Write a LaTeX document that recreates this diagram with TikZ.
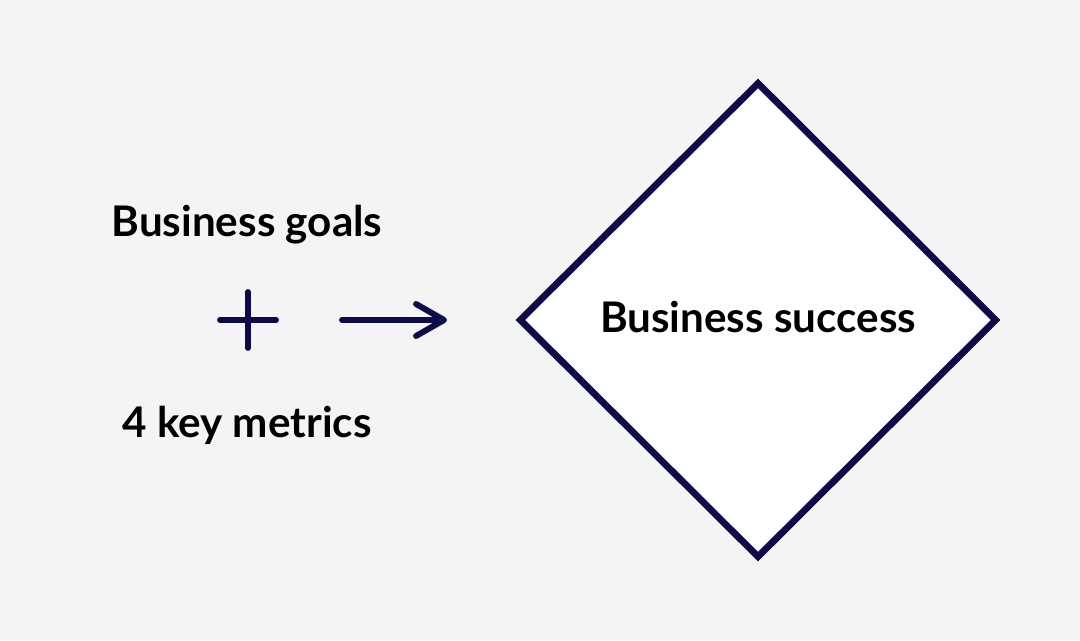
\documentclass[tikz,border=0pt]{standalone}
\usepackage{fontspec}
\setmainfont{Lato}
\usetikzlibrary{shapes.geometric,arrows.meta}
\definecolor{navy}{RGB}{12,10,72}
\definecolor{bg}{RGB}{244,244,245}
\begin{document}
\begin{tikzpicture}[x=0.025cm,y=0.025cm,
  lbl/.style={font=\fontsize{30}{35}\selectfont\bfseries,anchor=base,inner sep=0pt}]
  \fill[bg] (0,0) rectangle (1080,640);
  \useasboundingbox (0,0) rectangle (1080,640);
  \node[diamond,draw=navy,fill=white,line width=4.8pt,inner sep=0pt,
        minimum width=11.95cm,minimum height=11.9cm] (success) at (758,320) {};
  \node[lbl] (succtext) at (758,307) {Business success};
  \node[lbl] (goals) at (247,403) {Business goals};
  \node[lbl] (metrics) at (247,203) {4 key metrics};
  \draw[navy,line width=4.2pt,line cap=round] (220,320) -- (276,320) (248,292) -- (248,348);
  \coordinate (from) at (342,320);
  \coordinate (to) at (447,320);
  \draw[navy,line width=4.2pt,line cap=round,
        -{Straight Barb[length=0.7cm,width=0.8cm,line cap=round,line join=round]}] (from) -- (to);
\end{tikzpicture}
\end{document}
